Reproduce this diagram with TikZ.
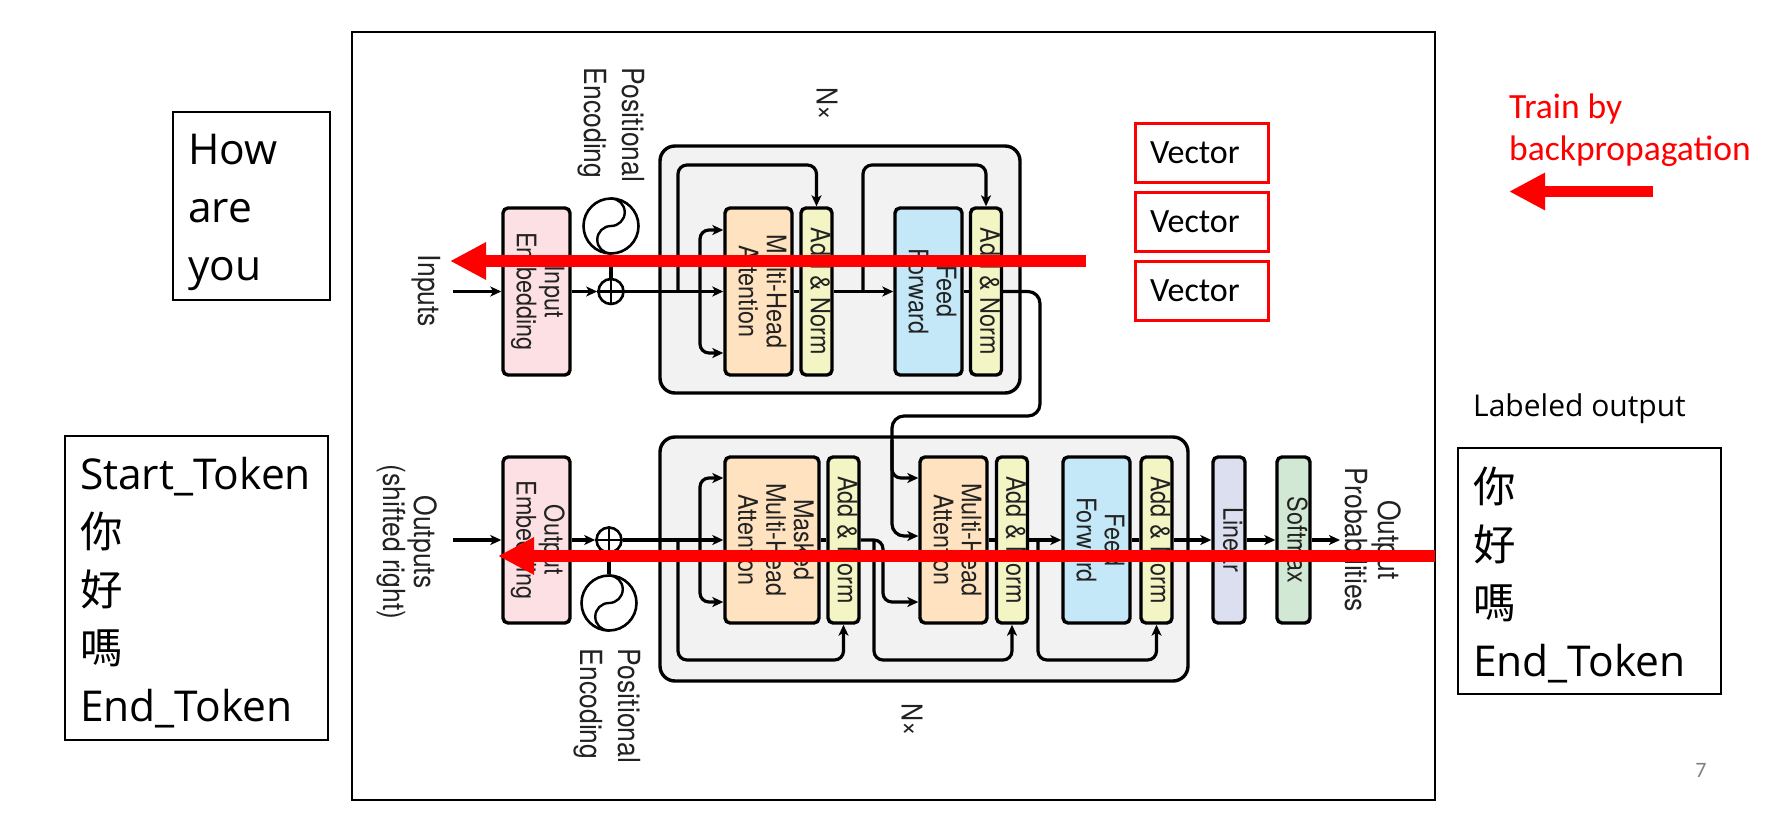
\documentclass[tikz,border=0pt]{standalone}
\usepackage{fontspec}
\usepackage{graphicx}
\usetikzlibrary{arrows.meta,calc}
\newfontfamily\dfont{TeX Gyre Heros}
\newfontfamily\cfont{Carlito}
\newfontfamily\ofont{Open Sans}
\newfontfamily\cjk{Noto Sans CJK TC}
\definecolor{cemb}{RGB}{252,224,227}
\definecolor{cmha}{RGB}{255,226,191}
\definecolor{can}{RGB}{243,245,197}
\definecolor{cff}{RGB}{196,232,247}
\definecolor{clin}{RGB}{220,223,240}
\definecolor{csoft}{RGB}{209,232,212}
\definecolor{cgrp}{RGB}{242,242,242}
\definecolor{dtext}{RGB}{34,34,34}
\newcommand\rt[1]{\rotatebox{-90}{\scalebox{1}[1.15]{\begin{tabular}{@{}c@{}}#1\end{tabular}}}}
\begin{document}
\begin{tikzpicture}[x=1pt,y=-1pt,
  blk/.style={draw=black, line width=3.4pt, rounded corners=5pt, inner sep=0pt, text=dtext,
    font=\dfont\fontsize{23.4}{24}\selectfont, minimum height=167pt},
  embbox/.style={blk, fill=cemb, minimum width=67pt},
  mhabox/.style={blk, fill=cmha, minimum width=67pt},
  anbox/.style={blk, fill=can, minimum width=31pt},
  ffbox/.style={blk, fill=cff, minimum width=67pt},
  linbox/.style={blk, fill=clin, minimum width=32pt},
  softbox/.style={blk, fill=csoft, minimum width=33pt},
  grp/.style={draw=black, line width=3.4pt, fill=cgrp, rounded corners=15pt},
  plusn/.style={circle, draw=black, line width=2.6pt, fill=white, minimum size=25pt, inner sep=0pt},
  pen/.style={circle, draw=black, line width=2.6pt, fill=white, minimum size=55pt, inner sep=0pt},
  lbl/.style={rotate=-90, yscale=1.15, inner sep=0pt, text=dtext},
  conn/.style={draw=black, line width=3.2pt, rounded corners=9pt},
  arr/.style={conn, -{Stealth[length=11pt, width=10pt, inset=3pt]}},
  redarrow/.style={draw=red, line width=12pt, -{Triangle[length=36pt, width=35pt]}},
  vbox/.style={draw=red, line width=3pt, minimum width=133pt, minimum height=59pt, inner xsep=15pt,
    text width=103pt, align=left, font=\cfont\fontsize{34}{40}\selectfont},
  sbox/.style={draw=black, line width=2pt, inner xsep=15pt, inner ysep=0pt, align=left,
    font=\ofont\fontsize{42.5}{58}\selectfont}
]
\fill[white] (0,0) rectangle (1788,819);
\useasboundingbox (0,0) rectangle (1788,819);

% frame
\node[draw=black, line width=2pt, minimum width=1083pt, minimum height=768pt, inner sep=0pt] (frame) at (893.5,416) {};

% groups
\node[grp, minimum width=360pt, minimum height=247pt] (egrp) at (840,269.5) {};
\node[grp, minimum width=528pt, minimum height=244pt] (dgrp) at (924,559) {};

% encoder blocks
\node[embbox] (iemb) at (536.5,291.5) {\rt{Input\\Embedding}};
\node[plusn] (eplus) at (611,291.5) {};
\node[pen] (epe) at (611,226) {};
\node[mhabox] (emha) at (758.5,291.5) {\rt{Multi-Head\\Attention}};
\node[anbox] (ean1) at (816.5,291.5) {\rt{Add \& Norm}};
\node[ffbox] (eff) at (928.5,291.5) {\rt{Feed\\Forward}};
\node[anbox] (ean2) at (986,291.5) {\rt{Add \& Norm}};

% decoder blocks
\node[embbox, minimum height=166pt] (oemb) at (536.5,540) {\rt{Output\\Embedding}};
\node[plusn] (dplus) at (609,540) {};
\node[pen] (dpe) at (609,603) {};
\node[mhabox, minimum width=94pt, minimum height=166pt] (dmmha) at (772,540) {\rt{Masked\\Multi-Head\\Attention}};
\node[anbox, minimum height=166pt] (dan1) at (843.5,540) {\rt{Add \& Norm}};
\node[mhabox, minimum height=166pt] (dmha) at (953.5,540) {\rt{Multi-Head\\Attention}};
\node[anbox, minimum height=166pt] (dan2) at (1012,540) {\rt{Add \& Norm}};
\node[ffbox, minimum height=166pt] (dff) at (1096.5,540) {\rt{Feed\\Forward}};
\node[anbox, minimum height=166pt] (dan3) at (1156.5,540) {\rt{Add \& Norm}};
\node[linbox, minimum height=166pt] (lin) at (1229,540) {\rt{Linear}};
\node[softbox, minimum height=166pt] (soft) at (1293.5,540) {\rt{Softmax}};

% plus signs and sine waves
\foreach \p in {eplus,dplus}{
  \draw[line width=2.4pt] (\p.north) -- (\p.south) (\p.west) -- (\p.east);
}
\foreach \p in {epe,dpe}{
  \draw[line width=2.4pt] ([shift={(0,-27.5)}]\p.center) arc[start angle=-90, end angle=90, radius=13.75]
    arc[start angle=270, end angle=90, radius=13.75];
}

% outer labels
\node[lbl, font=\dfont\fontsize{26.5}{30}\selectfont] (inputs) at (426,291) {Inputs};
\node[lbl, align=left, font=\dfont\fontsize{26.5}{33}\selectfont] (epelbl) at (611,125) {Positional\\Encoding};
\node[lbl, font=\dfont\fontsize{25}{30}\selectfont] (enx) at (827,104) {N×};
\node[lbl, align=center, font=\dfont\fontsize{26.5}{27}\selectfont] (outs) at (407,542) {Outputs\\(shifted right)};
\node[lbl, align=left, font=\dfont\fontsize{26.5}{33}\selectfont] (dpelbl) at (607,706) {Positional\\Encoding};
\node[lbl, font=\dfont\fontsize{25}{30}\selectfont] (dnx) at (912,720) {N×};
\node[lbl, align=center, font=\dfont\fontsize{26.5}{29}\selectfont] (oprob) at (1373,540) {Output\\Probabilities};

% encoder connectors
\coordinate (inA) at (453,291.5);
\draw[arr] (inA) -- (iemb.west);
\draw[arr] (iemb.east) -- (eplus.west);
\draw[conn] (epe.south) -- (eplus.north);
\draw[arr] (eplus.east) -- (emha.west);
\coordinate (er1) at (678,291.5);
\coordinate (er1t) at (678,165);
\draw[arr] (er1) -- (er1t) -| (ean1.north);
\coordinate (eb1) at (700,291.5);
\draw[arr] (eb1) |- (emha.west |- 0,230);
\draw[arr] (eb1) |- (emha.west |- 0,353);
\draw[conn] (emha.east) -- (ean1.west);
\draw[arr] (ean1.east) -- (eff.west);
\coordinate (er2) at (863,291.5);
\coordinate (er2t) at (863,165);
\draw[arr] (er2) -- (er2t) -| (ean2.north);
\draw[conn] (eff.east) -- (ean2.west);
\coordinate (eo1) at (1040,416);
\coordinate (eo2) at (892,416);
\coordinate (eo3) at (892,440);
\draw[arr, rounded corners=12pt] (ean2.east) -| (eo1) -- (eo2) |- (dmha.west |- 0,536);
\draw[arr] (eo3) |- (dmha.west |- 0,478);

% decoder connectors
\coordinate (outA) at (453,540);
\draw[arr] (outA) -- (oemb.west);
\draw[arr] (oemb.east) -- (dplus.west);
\draw[conn] (dpe.north) -- (dplus.south);
\draw[arr] (dplus.east) -- (dmmha.west);
\coordinate (dr1) at (678,540);
\coordinate (dr1b) at (678,660);
\draw[arr] (dr1) -- (dr1b) -| (dan1.south);
\coordinate (db1) at (700,540);
\draw[arr] (db1) |- (dmmha.west |- 0,478);
\draw[arr] (db1) |- (dmmha.west |- 0,602);
\draw[conn] (dmmha.east) -- (dan1.west);
\coordinate (ds1) at (883,540);
\draw[arr] (dan1.east) -- (ds1) |- (dmha.west |- 0,602);
\coordinate (dr2) at (874,540);
\coordinate (dr2b) at (874,660);
\draw[arr] (dr2) -- (dr2b) -| (dan2.south);
\draw[conn] (dmha.east) -- (dan2.west);
\draw[arr] (dan2.east) -- (dff.west);
\coordinate (dr3) at (1038,540);
\coordinate (dr3b) at (1038,660);
\draw[arr] (dr3) -- (dr3b) -| (dan3.south);
\draw[conn] (dff.east) -- (dan3.west);
\draw[arr] (dan3.east) -- (lin.west);
\draw[arr] (lin.east) -- (soft.west);
\coordinate (outP) at (1340,540);
\draw[arr] (soft.east) -- (outP);

% slide boxes
\node[sbox, minimum width=157pt, minimum height=188pt, text width=127pt] (howbox) at (251.5,206) {\rule{0pt}{43pt}How\\are\\you};
\node[sbox, minimum width=263pt, minimum height=304pt, text width=233pt] (startbox) at (196.5,588)
  {\rule{0pt}{41pt}Start\_Token\\{\cjk 你}\\{\cjk 好}\\{\cjk 嗎}\\End\_Token};
\node[sbox, minimum width=263pt, minimum height=246pt, text width=233pt] (labbox) at (1589.5,571)
  {\rule{0pt}{43pt}{\cjk 你}\\{\cjk 好}\\{\cjk 嗎}\\End\_Token};
\node[anchor=west, inner sep=0pt, font=\ofont\fontsize{30}{36}\selectfont] (labtxt) at (1473,409) {Labeled output};

% vectors
\node[vbox] (v1) at (1201.5,152.5) {Vector};
\node[vbox] (v2) at (1201.5,221.5) {Vector};
\node[vbox] (v3) at (1201.5,290.5) {Vector};

% train by backprop
\node[anchor=west, inner sep=0pt, align=left, text=red, font=\cfont\fontsize{35.5}{42}\selectfont] (train) at (1509,130) {Train by\\backpropagation};
\coordinate (s1) at (1653,191.5);
\coordinate (s2) at (1509,191.5);
\draw[draw=red, line width=11pt, -{Triangle[length=36pt, width=35pt]}] (s1) -- (s2);

% red arrows across the diagram
\coordinate (r1s) at (1086,261);
\coordinate (r1e) at (450,261);
\draw[redarrow] (r1s) -- (r1e);
\coordinate (r2s) at (1435,556);
\coordinate (r2e) at (498,556);
\draw[redarrow] (r2s) -- (r2e);

% page number
\node[inner sep=0pt, text=gray, font=\cfont\fontsize{22}{26}\selectfont] (pg) at (1701,770) {7};
\end{tikzpicture}
\end{document}
